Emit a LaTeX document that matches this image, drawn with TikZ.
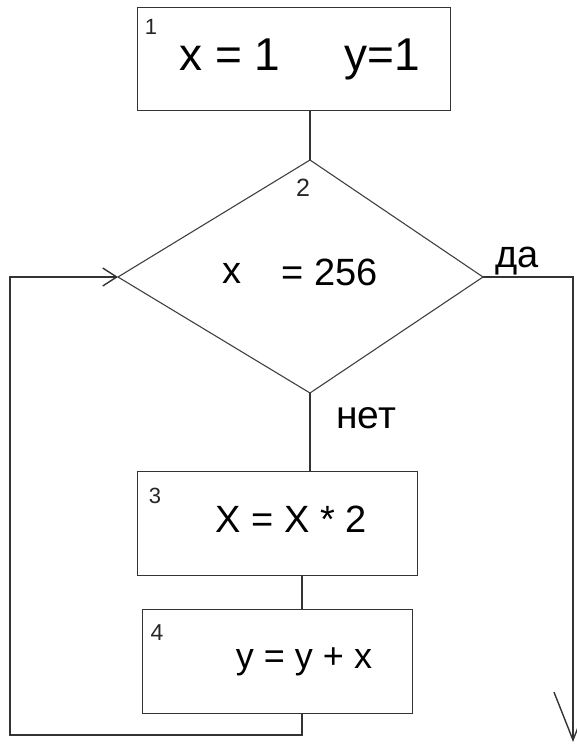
\documentclass[tikz,border=0pt]{standalone}
\usepackage{fontspec}
\setmainfont{Liberation Sans}
\usetikzlibrary{arrows.meta}
\newcommand{\fs}[1]{\fontsize{#1}{#1}\selectfont}
\begin{document}
\begin{tikzpicture}[x=1pt,y=-1pt,
  ln/.style={draw=black!80,line width=1.4pt},
  box/.style={ln,anchor=north west,inner sep=0pt},
  num/.style={inner sep=0pt,text=black!85},
  txt/.style={inner sep=0pt,text=black,anchor=base}]
\useasboundingbox (0,0) rectangle (577,745);
\clip (0,0) rectangle (577,745);
% boxes
\node[box,minimum width=313pt,minimum height=103pt] (b1) at (137,7) {};
\node[box,minimum width=280pt,minimum height=104pt] (b3) at (137,471) {};
\node[box,minimum width=270pt,minimum height=104pt] (b4) at (142,609) {};
% diamond
\coordinate (dtop) at (310,160);
\coordinate (dleft) at (118,277);
\coordinate (dright) at (483,277);
\coordinate (dbot) at (310,393);
\draw[ln,draw=black!75,line width=1.1pt] (dtop) -- (dright) -- (dbot) -- (dleft) -- cycle;
% texts
\node[num,font=\fs{22}] (n1) at (151,27) {1};
\node[txt,font=\fs{46}] (t1a) at (230,70) {x = 1};
\node[txt,font=\fs{46}] (t1b) at (382,70) {y=1};
\node[num,font=\fs{25}] (n2) at (303,188) {2};
\node[txt,font=\fs{38}] (t2a) at (232,283) {x};
\node[txt,font=\fs{38}] (t2b) at (330,285) {= 256};
\node[txt,font=\fs{38}] (yes) at (517,267) {да};
\node[txt,font=\fs{39}] (no) at (366,428) {нет};
\node[num,font=\fs{22}] (n3) at (155,496) {3};
\node[txt,font=\fs{38}] (t3) at (291,532) {X = X * 2};
\node[num,font=\fs{23}] (n4) at (157,633) {4};
\node[txt,font=\fs{36}] (t4) at (304,668) {y = y + x};
% connectors
\coordinate (c34) at (302,0);
\coordinate (bl) at (10,735);
\coordinate (br) at (573,277);
\coordinate (bend) at (573,742);
\draw[ln] (b1.south -| dtop) -- (dtop);
\draw[ln] (dbot) -- (b3.north -| dbot);
\draw[ln] (b3.south -| c34) -- (b4.north -| c34);
\draw[ln,-{Straight Barb[length=14pt,width=18pt]}] (b4.south -| c34) -- (c34 |- bl) -- (bl) |- (dleft);
\draw[ln,-{Straight Barb[length=48pt,width=38pt]}] (dright) -- (br) -- (bend);
\end{tikzpicture}
\end{document}
